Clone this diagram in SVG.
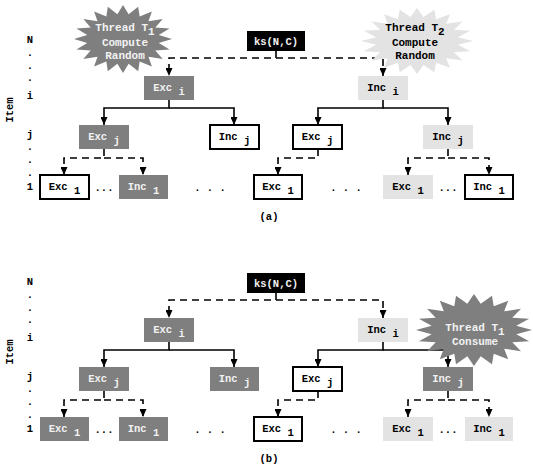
<svg xmlns="http://www.w3.org/2000/svg" xmlns:xlink="http://www.w3.org/1999/xlink" width="533" height="470" viewBox="0 0 533 470">
<style>
.dk{fill:#7f7f7f}
.lt{fill:#e3e3e3}
.wh{fill:#fff;stroke:#000;stroke-width:2}
.bk{fill:#000}
text{font-family:"Liberation Mono","DejaVu Sans Mono",monospace;font-weight:bold;font-size:10.5px;text-anchor:middle;fill:#000}
text.w{fill:#f2f2f2}
text.s{font-size:11px}
.sol{fill:none;stroke:#000;stroke-width:1.6}
.dsh{fill:none;stroke:#000;stroke-width:1.6;stroke-dasharray:7 5}
</style>
<defs>
<marker id="ah" viewBox="0 0 8 7" refX="8" refY="3.5" markerWidth="8" markerHeight="7" orient="auto" markerUnits="userSpaceOnUse"><path d="M0,0 L8,3.5 L0,7 Z" fill="#000"/></marker>
<path id="star" d="M100,0 L73,11.5 L95,31 L66,34 L81,59 L52,52 L59,81 L34,66 L31,95 L11.5,73 L0,100 L-11.5,73 L-31,95 L-34,66 L-59,81 L-52,52 L-81,59 L-66,34 L-95,31 L-73,11.5 L-100,0 L-73,-11.5 L-95,-31 L-66,-34 L-81,-59 L-52,-52 L-59,-81 L-34,-66 L-31,-95 L-11.5,-73 L0,-100 L11.5,-73 L31,-95 L34,-66 L59,-81 L52,-52 L81,-59 L66,-34 L95,-31 L73,-11.5 Z"/>
</defs>

<!-- Row labels -->
<g id="labels-a">
<text transform="translate(13,110) rotate(-90)">Item</text>
<text x="30" y="43">N</text>
<text x="30" y="56">.</text><text x="30" y="68.5">.</text><text x="30" y="81">.</text>
<text x="30" y="99">i</text>
<text x="30" y="138">j</text>
<text x="30" y="150">.</text><text x="30" y="163">.</text><text x="30" y="176">.</text>
<text x="30" y="190">1</text>
<text x="269" y="220">(a)</text>
<text x="104" y="191">...</text>
<text x="210" y="191">. . .</text>
<text x="346" y="191">. . .</text>
<text x="448" y="191">...</text>
</g>
<g id="labels-b">
<text transform="translate(13,352) rotate(-90)">Item</text>
<text x="30" y="285">N</text>
<text x="30" y="298">.</text><text x="30" y="310.5">.</text><text x="30" y="323">.</text>
<text x="30" y="341">i</text>
<text x="30" y="380">j</text>
<text x="30" y="392">.</text><text x="30" y="405">.</text><text x="30" y="418">.</text>
<text x="30" y="432">1</text>
<text x="269" y="462">(b)</text>
<text x="104" y="433">...</text>
<text x="210" y="433">. . .</text>
<text x="346" y="433">. . .</text>
<text x="448" y="433">...</text>
</g>

<!-- Connectors -->
<g id="connectors">
<path class="dsh" d="M276,51 V58 H169 V76" marker-end="url(#ah)"/>
<path class="dsh" d="M276,58 H383 V76" marker-end="url(#ah)"/>
<path class="sol" d="M169,100 V108 H104 V125" marker-end="url(#ah)"/>
<path class="sol" d="M169,108 H234 V125" marker-end="url(#ah)"/>
<path class="sol" d="M383,100 V108 H318 V125" marker-end="url(#ah)"/>
<path class="sol" d="M383,108 H448 V125" marker-end="url(#ah)"/>
<path class="dsh" d="M104,149 V158 H64 V175" marker-end="url(#ah)"/>
<path class="dsh" d="M104,158 H143 V175" marker-end="url(#ah)"/>
<path class="dsh" d="M318,149 V158 H278 V175" marker-end="url(#ah)"/>
<path class="dsh" d="M448,149 V158 H408 V175" marker-end="url(#ah)"/>
<path class="dsh" d="M448,158 H489 V175" marker-end="url(#ah)"/>

<path class="dsh" d="M276,293 V300 H169 V318" marker-end="url(#ah)"/>
<path class="dsh" d="M276,300 H383 V318" marker-end="url(#ah)"/>
<path class="sol" d="M169,342 V350 H104 V367" marker-end="url(#ah)"/>
<path class="sol" d="M169,350 H234 V367" marker-end="url(#ah)"/>
<path class="sol" d="M383,342 V350 H318 V367" marker-end="url(#ah)"/>
<path class="sol" d="M383,350 H448 V367" marker-end="url(#ah)"/>
<path class="dsh" d="M104,391 V400 H64 V417" marker-end="url(#ah)"/>
<path class="dsh" d="M104,400 H143 V417" marker-end="url(#ah)"/>
<path class="dsh" d="M318,391 V400 H278 V417" marker-end="url(#ah)"/>
<path class="dsh" d="M448,391 V400 H408 V417" marker-end="url(#ah)"/>
<path class="dsh" d="M448,400 H489 V417" marker-end="url(#ah)"/>
</g>

<!-- Panel (a) nodes -->
<g id="a-thread1"><use xlink:href="#star" class="dk" transform="translate(123,39) scale(0.49,0.34)"/>
<text class="w s" x="125" y="31">Thread T<tspan dy="4">1</tspan></text>
<text class="w s" x="125" y="46">Compute</text>
<text class="w s" x="125" y="59">Random</text></g>
<g id="a-thread2"><use xlink:href="#star" class="lt" transform="translate(417,41) scale(0.56,0.33)"/>
<text class="s" x="415" y="31">Thread T<tspan dy="4">2</tspan></text>
<text class="s" x="415" y="46">Compute</text>
<text class="s" x="415" y="59">Random</text></g>
<g id="a-ks"><rect class="bk" x="247" y="31" width="58" height="20"/><text class="w" x="276" y="45">ks(N,C)</text></g>
<g id="a-exci"><rect class="dk" x="144" y="76" width="50" height="24"/><text class="w" x="169" y="91">Exc <tspan dy="4">i</tspan></text></g>
<g id="a-inci"><rect class="lt" x="358" y="76" width="50" height="24"/><text x="383" y="91">Inc <tspan dy="4">i</tspan></text></g>
<g id="a-excj"><rect class="dk" x="79" y="125" width="50" height="24"/><text class="w" x="104" y="140">Exc <tspan dy="4">j</tspan></text></g>
<g id="a-incj"><rect class="wh" x="210" y="125" width="49" height="24"/><text x="234.5" y="140">Inc <tspan dy="4">j</tspan></text></g>
<g id="a-excj2"><rect class="wh" x="293" y="125" width="49" height="24"/><text x="317.5" y="140">Exc <tspan dy="4">j</tspan></text></g>
<g id="a-incj2"><rect class="lt" x="423" y="125" width="50" height="24"/><text x="448" y="140">Inc <tspan dy="4">j</tspan></text></g>
<g id="a-exc1a"><rect class="wh" x="40" y="175" width="49" height="24"/><text x="64.5" y="190">Exc <tspan dy="4">1</tspan></text></g>
<g id="a-inc1a"><rect class="dk" x="119" y="175" width="49" height="24"/><text class="w" x="143.5" y="190">Inc <tspan dy="4">1</tspan></text></g>
<g id="a-exc1b"><rect class="wh" x="254" y="175" width="48" height="24"/><text x="278" y="190">Exc <tspan dy="4">1</tspan></text></g>
<g id="a-exc1c"><rect class="lt" x="383" y="175" width="50" height="24"/><text x="408" y="190">Exc <tspan dy="4">1</tspan></text></g>
<g id="a-inc1c"><rect class="wh" x="465" y="175" width="48" height="24"/><text x="489" y="190">Inc <tspan dy="4">1</tspan></text></g>

<!-- Panel (b) nodes -->
<g id="b-ks"><rect class="bk" x="247" y="273" width="58" height="20"/><text class="w" x="276" y="287">ks(N,C)</text></g>
<g id="b-exci"><rect class="dk" x="144" y="318" width="50" height="24"/><text class="w" x="169" y="333">Exc <tspan dy="4">i</tspan></text></g>
<g id="b-inci"><rect class="lt" x="358" y="318" width="50" height="24"/><text x="383" y="333">Inc <tspan dy="4">i</tspan></text></g>
<g id="b-excj"><rect class="dk" x="79" y="367" width="50" height="24"/><text class="w" x="104" y="382">Exc <tspan dy="4">j</tspan></text></g>
<g id="b-incj"><rect class="dk" x="210" y="367" width="49" height="24"/><text class="w" x="234.5" y="382">Inc <tspan dy="4">j</tspan></text></g>
<g id="b-excj2"><rect class="wh" x="293" y="367" width="49" height="24"/><text x="317.5" y="382">Exc <tspan dy="4">j</tspan></text></g>
<g id="b-incj2"><rect class="dk" x="423" y="367" width="50" height="24"/><text class="w" x="448" y="382">Inc <tspan dy="4">j</tspan></text></g>
<g id="b-exc1a"><rect class="dk" x="40" y="417" width="49" height="24"/><text class="w" x="64.5" y="432">Exc <tspan dy="4">1</tspan></text></g>
<g id="b-inc1a"><rect class="dk" x="119" y="417" width="49" height="24"/><text class="w" x="143.5" y="432">Inc <tspan dy="4">1</tspan></text></g>
<g id="b-exc1b"><rect class="wh" x="254" y="417" width="48" height="24"/><text x="278" y="432">Exc <tspan dy="4">1</tspan></text></g>
<g id="b-exc1c"><rect class="lt" x="383" y="417" width="50" height="24"/><text x="408" y="432">Exc <tspan dy="4">1</tspan></text></g>
<g id="b-inc1c"><rect class="lt" x="465" y="417" width="48" height="24"/><text x="489" y="432">Inc <tspan dy="4">1</tspan></text></g>
<g id="b-thread1"><use xlink:href="#star" class="dk" transform="translate(474,330) scale(0.58,0.36)"/>
<text class="w s" x="475" y="331">Thread T<tspan dy="4">1</tspan></text>
<text class="w s" x="475" y="345">Consume</text></g>
</svg>
